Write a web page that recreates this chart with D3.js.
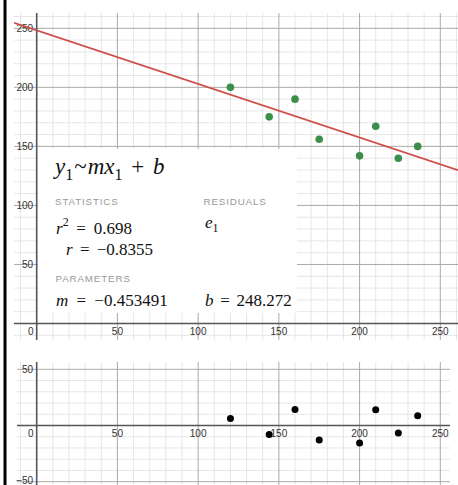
<!DOCTYPE html>
<html>
<head>
<meta charset="utf-8">
<script src="https://cdn.jsdelivr.net/npm/d3@7"></script>
<style>
  html, body { margin: 0; padding: 0; background: #fff; }
  svg { display: block; }
  .tick-label { font-family: "Liberation Sans", Arial, sans-serif; font-size: 10px; fill: #333; }
  .math { font-family: "Liberation Serif", "Times New Roman", serif; fill: #111; }
  .head { font-family: "Liberation Sans", Arial, sans-serif; font-size: 9.8px; letter-spacing: 0.85px; fill: #999; }
</style>
</head>
<body>
<svg id="chart" width="458" height="485"></svg>
<script>
// Observations (x1, y1)
const xValues = [120, 144, 160, 175, 200, 210, 224, 236];
const yValues = [200, 175, 190, 156, 142, 167, 140, 150];

// Fitted parameters for y1 ~ m x1 + b
const slopeM = -0.453491;
const interceptB = 248.272;
const rSquared = 0.698;
const rValue = -0.8355;

// Axis tick labels
const xTickValues = [0, 50, 100, 150, 200, 250];
const yTickTop = [50, 100, 150, 200, 250];
const yTickBottom = [-50, 50];

const svg = d3.select("#chart");

// left border
svg.append("rect").attr("x", 3.5).attr("y", 0).attr("width", 3).attr("height", 485).attr("fill", "#000");

// ---------- top panel: data with fitted line ----------
const topBox = { left: 14, right: 458, top: 13, bottom: 340 };
const xScale = d3.scaleLinear().domain([0, 250]).range([36.7, 440.3]);
const yTop = d3.scaleLinear().domain([0, 250]).range([323.5, 28.3]);

// ---------- bottom panel: residuals ----------
const botBox = { left: 17, right: 450, top: 362, bottom: 485 };
const yBot = d3.scaleLinear().domain([-50, 50]).range([481.7, 369.3]);

const residuals = xValues.map((x, i) => ({ x, e: yValues[i] - (slopeM * x + interceptB) }));

function drawGrid(g, box, ys) {
  const x0 = xScale.invert(box.left), x1 = xScale.invert(box.right);
  const y0 = ys.invert(box.bottom), y1 = ys.invert(box.top);
  const xs = d3.range(Math.ceil(x0 / 10) * 10, x1 + 0.01, 10);
  const yl = d3.range(Math.ceil(y0 / 10) * 10, y1 + 0.01, 10);
  const isMajor = v => Math.abs(v % 50) < 1e-6;
  // minor first, then major
  [false, true].forEach(major => {
    g.selectAll(null).data(xs.filter(v => isMajor(v) === major && v !== 0)).join("line")
      .attr("x1", d => xScale(d)).attr("x2", d => xScale(d))
      .attr("y1", box.top).attr("y2", box.bottom)
      .attr("stroke", major ? "#a9a9a9" : "#e6e6e6").attr("stroke-width", 1);
    g.selectAll(null).data(yl.filter(v => isMajor(v) === major && v !== 0)).join("line")
      .attr("y1", d => ys(d)).attr("y2", d => ys(d))
      .attr("x1", box.left).attr("x2", box.right)
      .attr("stroke", major ? "#a9a9a9" : "#e6e6e6").attr("stroke-width", 1);
  });
}

function drawAxes(g, box, ys) {
  g.append("line").attr("x1", box.left).attr("x2", box.right)
    .attr("y1", ys(0)).attr("y2", ys(0)).attr("stroke", "#555").attr("stroke-width", 1.6);
  g.append("line").attr("x1", xScale(0)).attr("x2", xScale(0))
    .attr("y1", box.top).attr("y2", box.bottom).attr("stroke", "#555").attr("stroke-width", 1.6);
}

function drawTickLabels(g, ys, yTicks, maxBaseline) {
  g.selectAll(null).data(xTickValues).join("text")
    .attr("class", "tick-label")
    .attr("x", d => d === 0 ? xScale(0) - 6 : xScale(d))
    .attr("y", ys(0) + 11.5)
    .attr("text-anchor", "middle")
    .text(d => d3.format("d")(d));
  g.selectAll(null).data(yTicks).join("text")
    .attr("class", "tick-label")
    .attr("x", xScale(0) - 3.5)
    .attr("y", d => Math.min(ys(d) + 3.6, maxBaseline))
    .attr("text-anchor", "end")
    .text(d => d < 0 ? "\u2212" + Math.abs(d) : d);
}

// top panel
const gTop = svg.append("g");
svg.append("clipPath").attr("id", "clipTop").append("rect")
  .attr("x", topBox.left).attr("y", topBox.top).attr("width", topBox.right - topBox.left).attr("height", topBox.bottom - topBox.top);
drawGrid(gTop, topBox, yTop);
drawAxes(gTop, topBox, yTop);
drawTickLabels(gTop, yTop, yTickTop, 999);

// fitted line
const lineX = [xScale.invert(topBox.left), xScale.invert(topBox.right)];
gTop.append("path")
  .attr("clip-path", "url(#clipTop)")
  .attr("d", d3.line().x(d => xScale(d)).y(d => yTop(slopeM * d + interceptB))(lineX))
  .attr("fill", "none").attr("stroke", "#cf4e49").attr("stroke-width", 1.8);

// data points
gTop.selectAll("circle.pt").data(xValues).join("circle")
  .attr("class", "pt")
  .attr("cx", d => xScale(d)).attr("cy", (d, i) => yTop(yValues[i]))
  .attr("r", 3.8).attr("fill", "#3c8f4a");

// regression summary box
const panel = gTop.append("g");
panel.append("rect").attr("x", 38).attr("y", 149).attr("width", 259).attr("height", 164).attr("fill", "#fff");

// a line of math: runs of text with italic / subscript / superscript flags
function mathText(x, y, size, wordSpacing, parts) {
  const t = panel.append("text").attr("class", "math")
    .attr("x", x).attr("y", y).attr("font-size", size)
    .style("word-spacing", wordSpacing + "px")
    .style("white-space", "pre");
  let shift = 0;
  parts.forEach(p => {
    const s = t.append("tspan").text(p.t);
    s.attr("font-style", p.i ? "italic" : "normal");
    const small = p.sub || p.sup;
    s.attr("font-size", small ? size * 0.7 : size);
    const target = p.sub ? size * 0.25 : p.sup ? -size * 0.42 : 0;
    if (target !== shift) { s.attr("dy", target - shift); shift = target; }
    if (p.dx) s.attr("dx", p.dx);
  });
}

mathText(55, 174, 23, 3, [
  { t: "y", i: true }, { t: "1", sub: true }, { t: "~", dx: 1 }, { t: "mx", i: true, dx: 1 },
  { t: "1", sub: true }, { t: " + " }, { t: "b", i: true }
]);

panel.append("text").attr("class", "head").attr("x", 55).attr("y", 205).text("STATISTICS");
panel.append("text").attr("class", "head").attr("x", 203.5).attr("y", 205).text("RESIDUALS");
panel.append("text").attr("class", "head").attr("x", 55.5).attr("y", 282).text("PARAMETERS");

mathText(56, 233.5, 17, 3.5, [
  { t: "r", i: true }, { t: "2", sup: true }, { t: " = " + d3.format(".3f")(rSquared) }
]);
mathText(66, 254.5, 17, 3, [
  { t: "r", i: true }, { t: " = " + "\u2212" + d3.format(".4f")(Math.abs(rValue)) }
]);
mathText(205, 228, 17, 0, [
  { t: "e", i: true }, { t: "1", sub: true }
]);
mathText(56, 305.5, 17, 4, [
  { t: "m", i: true }, { t: " = " + "\u2212" + Math.abs(slopeM) }
]);
mathText(205, 305.5, 17, 2.5, [
  { t: "b", i: true }, { t: " = " + interceptB }
]);

// bottom panel
const gBot = svg.append("g");
drawGrid(gBot, botBox, yBot);
drawAxes(gBot, botBox, yBot);
drawTickLabels(gBot, yBot, yTickBottom, 483.5);

gBot.selectAll("circle.res").data(residuals).join("circle")
  .attr("class", "res")
  .attr("cx", d => xScale(d.x)).attr("cy", d => yBot(d.e))
  .attr("r", 3.5).attr("fill", "#000");
</script>
</body>
</html>
